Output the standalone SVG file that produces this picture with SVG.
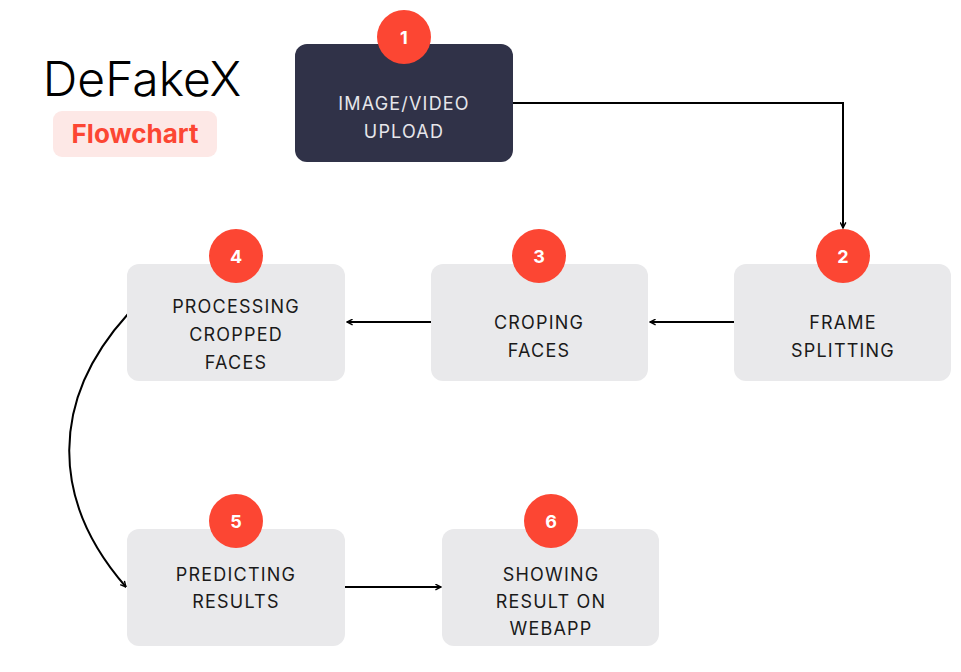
<svg xmlns="http://www.w3.org/2000/svg" width="961" height="672" viewBox="0 0 961 672">
<style>
.box{fill:#e9e9eb}
.lbl{font-family:Inter,"Liberation Sans",sans-serif;font-size:18px;fill:#1a1a1a;text-anchor:middle;letter-spacing:1.2px}
.num{font-family:Inter,"Liberation Sans",sans-serif;font-size:18px;font-weight:bold;fill:#fff;text-anchor:middle}
.badge{fill:#fc4633}
.con{fill:none;stroke:#000;stroke-width:2}
</style>
<defs><marker id="ah" viewBox="0 0 10 10" refX="9" refY="5" markerWidth="7" markerHeight="7" orient="auto" markerUnits="userSpaceOnUse"><path d="M1,1 L9,5 L1,9" fill="none" stroke="#000" stroke-width="2"/></marker></defs>
<rect width="961" height="672" fill="#fff"/>
<g id="title">
<text x="142" y="96" font-family="Inter,'Liberation Sans',sans-serif" font-size="48" font-weight="300" text-anchor="middle" fill="#000">DeFakeX</text>
<rect x="53" y="111" width="164" height="46" rx="9" fill="#fde8e6"/>
<text x="135" y="143" font-family="Inter,'Liberation Sans',sans-serif" font-size="26" font-weight="bold" text-anchor="middle" fill="#fc4633">Flowchart</text>
</g>
<g id="connectors">
<path class="con" d="M513,103 H843 V228" marker-end="url(#ah)"/>
<path class="con" d="M734,322 H650" marker-end="url(#ah)"/>
<path class="con" d="M431,322 H347" marker-end="url(#ah)"/>
<path class="con" d="M128,314 C50,400 50,500 126,587" marker-end="url(#ah)"/>
<path class="con" d="M345,587 H441" marker-end="url(#ah)"/>
</g>
<g id="n1"><rect x="295" y="44" width="218" height="118" rx="12" fill="#303248"/><circle class="badge" cx="404" cy="37" r="27"/><text class="num" x="404" y="44">1</text><text class="lbl" x="404" y="110" style="fill:#e6e6ea">IMAGE/VIDEO</text><text class="lbl" x="404" y="138" style="fill:#e6e6ea">UPLOAD</text></g>
<g id="n2"><rect class="box" x="734" y="264" width="217" height="117" rx="12"/><circle class="badge" cx="843" cy="256" r="27"/><text class="num" x="843" y="263">2</text><text class="lbl" x="843" y="329">FRAME</text><text class="lbl" x="843" y="357">SPLITTING</text></g>
<g id="n3"><rect class="box" x="431" y="264" width="217" height="117" rx="12"/><circle class="badge" cx="539" cy="256" r="27"/><text class="num" x="539" y="263">3</text><text class="lbl" x="539" y="329">CROPING</text><text class="lbl" x="539" y="357">FACES</text></g>
<g id="n4"><rect class="box" x="127" y="264" width="218" height="117" rx="12"/><circle class="badge" cx="236" cy="256" r="27"/><text class="num" x="236" y="263">4</text><text class="lbl" x="236" y="313">PROCESSING</text><text class="lbl" x="236" y="341">CROPPED</text><text class="lbl" x="236" y="369">FACES</text></g>
<g id="n5"><rect class="box" x="127" y="529" width="218" height="117" rx="12"/><circle class="badge" cx="236" cy="521" r="27"/><text class="num" x="236" y="528">5</text><text class="lbl" x="236" y="581">PREDICTING</text><text class="lbl" x="236" y="608">RESULTS</text></g>
<g id="n6"><rect class="box" x="442" y="529" width="217" height="117" rx="12"/><circle class="badge" cx="551" cy="521" r="27"/><text class="num" x="551" y="528">6</text><text class="lbl" x="551" y="581">SHOWING</text><text class="lbl" x="551" y="608">RESULT ON</text><text class="lbl" x="551" y="635">WEBAPP</text></g>
</svg>
